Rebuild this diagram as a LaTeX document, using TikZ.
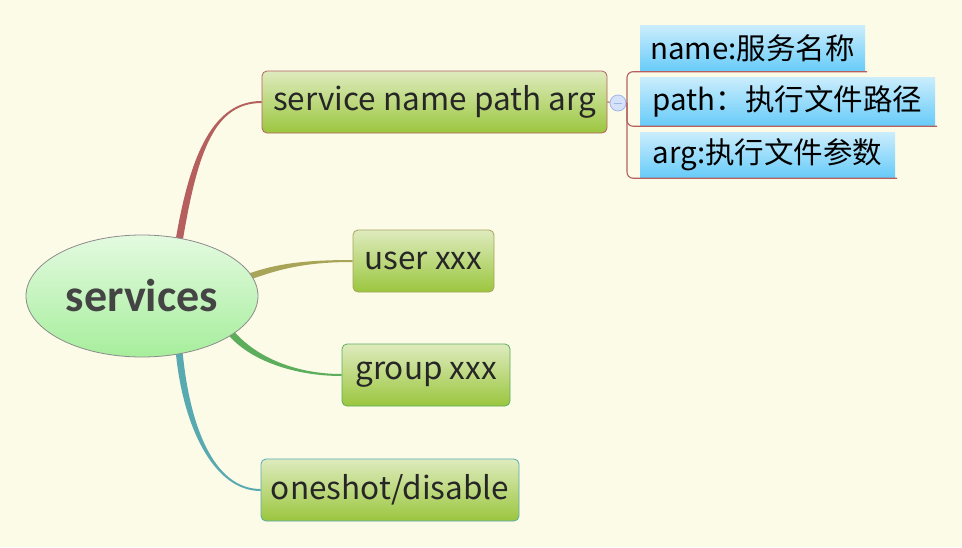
\documentclass[tikz,border=0pt]{standalone}
\usepackage{fontspec}
\setmainfont{Noto Sans CJK SC}
\newfontfamily\rootfont{Carlito}
\usetikzlibrary{calc,shapes,backgrounds}

\definecolor{paper}{RGB}{252,251,232}
\definecolor{ink}{RGB}{38,38,38}
\definecolor{rootink}{RGB}{68,68,68}
\definecolor{redline}{RGB}{181,96,95}
\definecolor{oliveline}{RGB}{168,164,88}
\definecolor{greenline}{RGB}{92,173,92}
\definecolor{tealline}{RGB}{88,170,176}
\definecolor{boxtop}{RGB}{222,235,190}
\definecolor{boxbot}{RGB}{155,198,62}
\definecolor{bluetop}{RGB}{203,237,252}
\definecolor{bluebot}{RGB}{102,203,249}
\definecolor{roottop}{RGB}{228,250,224}
\definecolor{rootbot}{RGB}{166,238,156}
\definecolor{knobfill}{RGB}{214,226,250}
\definecolor{knobline}{RGB}{160,180,232}

% tapered branch: colour, start, normal at start, first control, second control, end
\newcommand{\branch}[6]{%
  \fill[#1] ($(#2)+(#3)$) .. controls ($(#2)+(#4)+(#3)$) and ($(#6)+(#5)+(0,1)$) .. ($(#6)+(0,1)$)
    -- ($(#6)+(0,-1)$) .. controls ($(#6)+(#5)+(0,-1)$) and ($(#2)+(#4)-(#3)$) .. ($(#2)-(#3)$) -- cycle;}

\begin{document}
\begin{tikzpicture}[x=1pt,y=-1pt,
    topic/.style={draw, rounded corners=5pt, line width=0.8pt, top color=boxtop, bottom color=boxbot,
      text=ink, font=\fontsize{31.5}{31.5}\selectfont, minimum height=62pt, inner sep=0pt},
    note/.style={top color=bluetop, bottom color=bluebot, text=black,
      font=\fontsize{29.5}{29.5}\selectfont, inner sep=0pt},
    root/.style={ellipse, draw=black!45, line width=0.8pt, top color=roottop, bottom color=rootbot,
      text=rootink, font=\rootfont\bfseries\fontsize{46}{46}\selectfont,
      minimum width=232pt, minimum height=122pt, inner sep=0pt},
    foldline/.style={draw=redline, line width=1.1pt},
    foldknob/.style={circle, fill=knobfill, draw=knobline, line width=0.8pt, minimum size=16pt, inner sep=0pt}]
  \useasboundingbox (0,0) rectangle (962,547);

  \node[root] (root) at (142,296) {services};

  \node[topic, draw=redline, minimum width=345pt] (svc) at (434.5,102) {service name path arg};
  \node[topic, draw=oliveline, minimum width=141pt] (usr) at (423.5,261) {user xxx};
  \node[topic, draw=greenline, minimum width=168pt] (grp) at (426,375) {group xxx};
  \node[topic, draw=tealline, minimum width=258pt] (one) at (390,490) {oneshot/disable};

  \node[note, minimum width=225pt, minimum height=46pt] (nm) at (752.5,48.5) {name:服务名称};
  \node[note, minimum width=295pt, minimum height=49pt] (pt) at (787.5,101.5) {path：执行文件路径};
  \node[note, minimum width=255pt, minimum height=46pt] (ag) at (767.5,155) {arg:执行文件参数};

  % fold knob and bracket
  \coordinate (brk) at (627,103);
  \draw[foldline] (svc.east) -- (brk);
  \node[foldknob] (fold) at (618,103) {};
  \draw[draw=knobline, line width=1pt] ([xshift=-4pt]fold.center) -- ([xshift=4pt]fold.center);
  \draw[foldline, rounded corners=6pt] ([xshift=2pt]nm.south east) -- (nm.south -| brk)
    -- (ag.south -| brk) -- ([xshift=2pt]ag.south east);
  \draw[foldline, rounded corners=6pt] (brk) -- (brk |- pt.south) -- ([xshift=2pt]pt.south east);

  \coordinate (b1) at ($(root.center)!0.95!(root.56)$);
  \coordinate (b2) at ($(root.center)!0.95!(root.10)$);
  \coordinate (b3) at ($(root.center)!0.95!(root.-22)$);
  \coordinate (b4) at ($(root.center)!0.95!(root.-56)$);

  \begin{scope}[on background layer]
    \fill[paper] (0,0) rectangle (962,547);
    \branch{redline}{b1}{3.6,0}{15,-90}{-47,0}{svc.west}
    \branch{oliveline}{b2}{1.1,2.9}{30,-11}{-48,0}{usr.west}
    \branch{greenline}{b3}{-2.6,2.1}{22,27}{-47,0}{grp.west}
    \branch{tealline}{b4}{-3.4,0.3}{7,75}{-47,0}{one.west}
  \end{scope}
\end{tikzpicture}
\end{document}
